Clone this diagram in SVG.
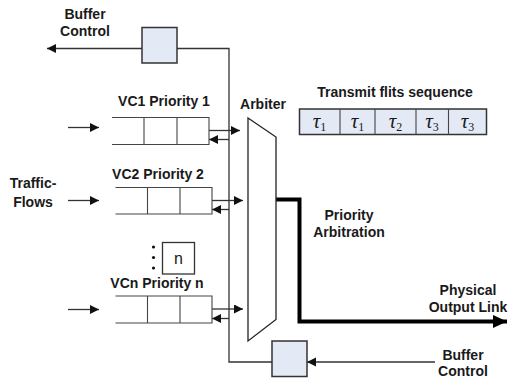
<svg xmlns="http://www.w3.org/2000/svg" width="508" height="379" viewBox="0 0 508 379">
<style>
.t{font-family:"Liberation Sans",Arial,sans-serif;font-weight:bold;font-size:14px;fill:#1a1a1a;text-anchor:middle}
.ln{stroke:#333;stroke-width:1.3;fill:none}
.q{stroke:#444;stroke-width:1.1;fill:none}
.bx{fill:#e3eaf6;stroke:#333;stroke-width:1.5}
.tau{font-family:"Liberation Serif","Times New Roman",serif;font-style:italic;font-size:21px;fill:#1a1a1a;text-anchor:middle}
.sub{font-style:normal;font-size:12px}
</style>
<defs>
<marker id="arr" markerUnits="userSpaceOnUse" markerWidth="10" markerHeight="10" refX="9" refY="4.5" orient="auto"><path d="M0,0 L9,4.5 L0,9 z" fill="#111"/></marker>
<marker id="arrb" markerUnits="userSpaceOnUse" markerWidth="16" markerHeight="14" refX="14" refY="6.5" orient="auto"><path d="M0,0 L14,6.5 L0,13 z" fill="#000"/></marker>
</defs>

<g id="connectors">
<line class="ln" x1="142" y1="48.5" x2="47" y2="48.5" marker-end="url(#arr)"/>
<polyline class="ln" points="177,48.5 229,48.5 229,362 272,362"/>
<line class="ln" x1="435" y1="362" x2="307" y2="362" marker-end="url(#arr)"/>
<line class="ln" x1="68" y1="127.5" x2="99" y2="127.5" marker-end="url(#arr)"/>
<line class="ln" x1="68" y1="200.5" x2="99" y2="200.5" marker-end="url(#arr)"/>
<line class="ln" x1="68" y1="309.5" x2="99" y2="309.5" marker-end="url(#arr)"/>
<line class="ln" x1="209" y1="130.5" x2="240" y2="130.5" marker-end="url(#arr)"/>
<line class="ln" x1="229" y1="139.5" x2="209" y2="139.5" marker-end="url(#arr)"/>
<line class="ln" x1="212" y1="200.5" x2="243" y2="200.5" marker-end="url(#arr)"/>
<line class="ln" x1="229" y1="209.5" x2="212" y2="209.5" marker-end="url(#arr)"/>
<line class="ln" x1="212" y1="309" x2="243" y2="309" marker-end="url(#arr)"/>
<line class="ln" x1="229" y1="318.5" x2="212" y2="318.5" marker-end="url(#arr)"/>
<polyline points="276,199.5 299.5,199.5 299.5,321.5 507,321.5" fill="none" stroke="#000" stroke-width="4" marker-end="url(#arrb)"/>
</g>

<g id="buffer-top">
<rect class="bx" x="142" y="27.5" width="35" height="35.5"/>
<text class="t" x="85" y="19">Buffer</text>
<text class="t" x="85" y="36">Control</text>
</g>

<g id="buffer-bottom">
<rect class="bx" x="272" y="341" width="35" height="35.5"/>
<text class="t" x="463" y="359.5">Buffer</text>
<text class="t" x="463" y="376">Control</text>
</g>

<g id="traffic">
<text class="t" x="33" y="188">Traffic-</text>
<text class="t" x="33" y="206.5">Flows</text>
</g>

<g id="vc1">
<text class="t" x="164" y="106">VC1 Priority 1</text>
<path class="q" d="M112,117.5 H209 V144.5 H112 M144,117.5 V144.5 M177,117.5 V144.5"/>
</g>

<g id="vc2">
<text class="t" x="158" y="179">VC2 Priority 2</text>
<path class="q" d="M115.5,187.5 H212 V214 H115.5 M147.5,187.5 V214 M180,187.5 V214"/>
</g>

<g id="vcn-dots">
<circle cx="153.5" cy="247" r="1.6" fill="#111"/>
<circle cx="153.5" cy="257.5" r="1.6" fill="#111"/>
<circle cx="153.5" cy="268" r="1.6" fill="#111"/>
<rect x="162.5" y="242.5" width="32" height="31.5" fill="#fff" stroke="#333" stroke-width="1.3"/>
<text x="178.5" y="264" font-family="Liberation Sans,Arial,sans-serif" font-size="16" fill="#1a1a1a" text-anchor="middle">n</text>
</g>

<g id="vcn">
<text class="t" x="157" y="288">VCn Priority n</text>
<path class="q" d="M115.5,296 H212 V323 H115.5 M147.5,296 V323 M180,296 V323"/>
</g>

<g id="arbiter">
<polygon points="248,118 276,137 276,319.5 248,341" fill="#fff" stroke="#222" stroke-width="1.3"/>
<text class="t" x="263" y="109">Arbiter</text>
</g>

<g id="labels">
<text class="t" x="349" y="219.5">Priority</text>
<text class="t" x="349" y="237">Arbitration</text>
<text class="t" x="468" y="294.5">Physical</text>
<text class="t" x="468" y="312">Output Link</text>
</g>

<g id="sequence">
<text class="t" x="395" y="97">Transmit flits sequence</text>
<rect class="bx" x="299.5" y="109" width="187" height="25.5" stroke-width="1.2"/>
<path class="q" d="M340,109 V134.5 M375,109 V134.5 M416,109 V134.5 M448.5,109 V134.5" stroke="#333"/>
<text class="tau" x="319.5" y="128">τ<tspan class="sub" dy="3">1</tspan></text>
<text class="tau" x="357.5" y="128">τ<tspan class="sub" dy="3">1</tspan></text>
<text class="tau" x="395.5" y="128">τ<tspan class="sub" dy="3">2</tspan></text>
<text class="tau" x="432" y="128">τ<tspan class="sub" dy="3">3</tspan></text>
<text class="tau" x="467.5" y="128">τ<tspan class="sub" dy="3">3</tspan></text>
</g>
</svg>
